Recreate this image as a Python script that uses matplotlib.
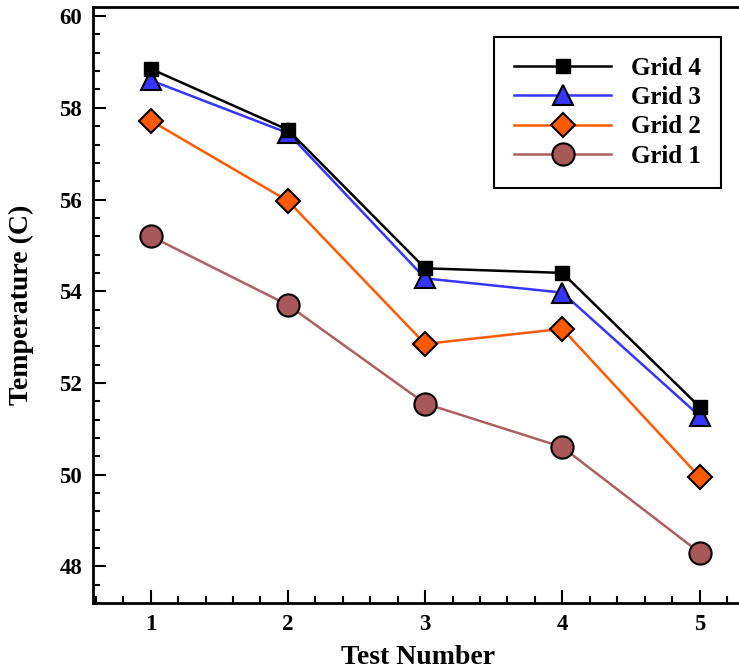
import matplotlib
matplotlib.use("Agg")
import matplotlib.pyplot as plt
from matplotlib.ticker import MultipleLocator

tests = [1, 2, 3, 4, 5]
grid4 = [58.85, 57.52, 54.50, 54.40, 51.48]
grid3 = [58.60, 57.45, 54.28, 53.97, 51.28]
grid2 = [57.72, 55.97, 52.85, 53.18, 49.95]
grid1 = [55.20, 53.70, 51.55, 50.60, 48.30]

plt.rcParams["font.family"] = "Liberation Serif"
plt.rcParams["font.weight"] = "bold"

fig = plt.figure(figsize=(7.39, 6.70), dpi=100)
ax = fig.add_axes([0.126, 0.1, 0.88, 0.8896])

ax.plot(tests, grid4, color="black", lw=1.8, marker="s", ms=10,
        mfc="black", mec="black", label="Grid 4", zorder=5)
ax.plot(tests, grid3, color="#3535ff", lw=1.8, marker="^", ms=14,
        mfc="#3535ff", mec="black", mew=1.5, label="Grid 3", zorder=4)
ax.plot(tests, grid2, color="#ff5a00", lw=1.8, marker="D", ms=12,
        mfc="#ff5a00", mec="black", mew=1.5, label="Grid 2", zorder=3)
ax.plot(tests, grid1, color="#ac6060", lw=1.8, marker="o", ms=16,
        mfc="#a85858", mec="black", mew=1.5, label="Grid 1", zorder=2)

ax.set_xlim(0.58, 5.32)
ax.set_ylim(47.2, 60.2)
ax.xaxis.set_major_locator(MultipleLocator(1))
ax.xaxis.set_minor_locator(MultipleLocator(0.2))
ax.yaxis.set_major_locator(MultipleLocator(2))
ax.yaxis.set_minor_locator(MultipleLocator(0.4))
ax.tick_params(which="both", direction="in", top=False, right=False, width=1.5)
ax.tick_params(which="major", length=9.5, labelsize=16.5, pad=8)
ax.tick_params(which="minor", length=5)
for s in ax.spines.values():
    s.set_linewidth(2)

ax.set_xlabel("Test Number", fontsize=20, fontweight="bold", va="top")
ax.set_ylabel("Temperature (C)", fontsize=20, fontweight="bold")
ax.xaxis.set_label_coords(0.5, -0.07)
ax.yaxis.set_label_coords(-0.091, 0.5)

leg = ax.legend(loc="upper right", bbox_to_anchor=(0.965, 0.95), fontsize=18,
                handlelength=3.85, numpoints=1, fancybox=False, framealpha=1,
                edgecolor="black", borderpad=0.8, labelspacing=0.25,
                handletextpad=0.8, borderaxespad=0)
leg.get_frame().set_linewidth(1.5)

fig.savefig("out.png", dpi=100)
